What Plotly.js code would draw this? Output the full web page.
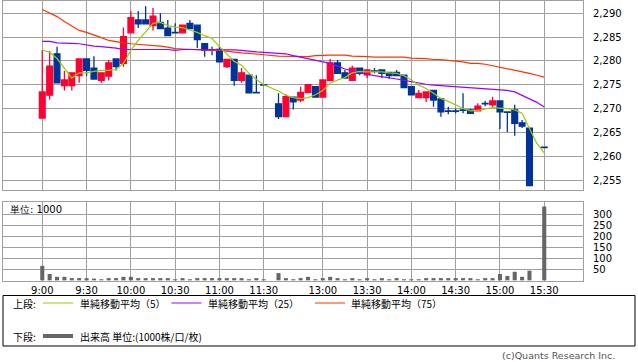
<!DOCTYPE html>
<html><head><meta charset="utf-8">
<script src="https://cdn.plot.ly/plotly-3.0.1.min.js"></script>
<style>html,body{margin:0;padding:0;background:#fff;}#chart{width:638px;height:362px;}</style>
</head><body><div id="chart"></div>
<script>
// ---- data ----
const times = ["9:00","9:05","9:10","9:15","9:20","9:25","9:30","9:35","9:40","9:45","9:50","9:55",
"10:00","10:05","10:10","10:15","10:20","10:25","10:30","10:35","10:40","10:45","10:50","10:55",
"11:00","11:05","11:10","11:15","11:20","11:25","11:30","",
"12:30","12:35","12:40","12:45","12:50","12:55","13:00","13:05","13:10","13:15","13:20","13:25",
"13:30","13:35","13:40","13:45","13:50","13:55","14:00","14:05","14:10","14:15","14:20","14:25",
"14:30","14:35","14:40","14:45","14:50","14:55","15:00","15:05","15:10","15:15","15:20","15:25","15:30"];

const openP = [2268.0,2272.8,2281.5,2274.8,2274.8,2276.9,2280.4,2278.5,2275.9,2276.8,2280.4,2279.5,
2285.9,2288.6,2288.6,2287.4,2288.1,2286.9,2286.0,2285.9,2287.9,2287.5,2283.6,2282.3,
2282.4,2278.8,2280.3,2275.9,2277.0,2273.4,2275.0,null,
2271.0,2268.3,2272.4,2271.8,2273.4,2274.6,2272.4,2275.9,2279.6,2277.5,2275.9,2278.5,
2277.1,2277.9,2278.1,2277.6,2277.6,2277.0,2274.6,2272.3,2272.3,2273.8,2272.0,2269.5,
2269.5,2269.7,2269.7,2269.5,2271.1,2270.8,2271.6,2269.3,2269.7,2267.0,2265.9,null,2261.9];
const highP = [2282.3,2282.1,2283.0,2277.9,2277.5,2280.4,2280.4,2281.0,2277.5,2280.2,2280.4,2287.0,
2290.5,2290.5,2291.5,2291.1,2290.0,2288.6,2287.9,2287.5,2288.6,2287.5,2283.6,2283.0,
2283.0,2280.3,2280.3,2278.5,2277.0,2277.0,2275.0,null,
2273.2,2273.0,2272.4,2274.6,2275.0,2274.6,2276.0,2280.4,2280.2,2278.1,2279.0,2278.5,
2278.1,2278.5,2278.1,2277.6,2278.1,2277.0,2274.6,2273.9,2273.5,2273.8,2272.0,2270.4,
2270.0,2273.2,2269.9,2271.1,2271.6,2272.5,2271.6,2269.3,2270.8,2267.6,2265.9,null,2261.9];
const lowP = [2268.0,2271.9,2275.4,2273.8,2273.8,2275.4,2276.9,2276.2,2275.4,2275.9,2278.0,2278.8,
2285.9,2286.9,2287.8,2286.4,2286.8,2285.3,2285.8,2285.9,2286.8,2282.7,2280.9,2281.2,
2279.8,2278.5,2274.8,2275.4,2273.3,2273.3,2274.9,null,
2267.8,2268.3,2269.8,2271.4,2273.4,2272.4,2272.4,2275.9,2277.4,2276.4,2275.9,2277.0,
2276.4,2277.4,2276.4,2276.2,2276.9,2274.4,2272.9,2272.3,2271.4,2270.4,2268.3,2268.8,
2269.0,2269.0,2269.0,2269.5,2270.5,2270.4,2265.7,2265.1,2264.3,2265.9,2253.8,null,2261.8];
const closeP = [2273.5,2278.9,2275.4,2276.0,2277.5,2280.4,2278.0,2276.2,2277.5,2279.6,2278.8,2285.1,
2289.1,2287.8,2287.8,2289.4,2286.8,2285.3,2285.9,2287.5,2286.8,2284.5,2282.2,2282.2,
2279.8,2280.3,2275.9,2277.5,2273.3,2273.3,2274.9,null,
2268.3,2272.5,2271.4,2273.4,2275.0,2272.4,2276.0,2279.6,2277.4,2276.4,2278.5,2277.4,
2278.1,2277.8,2277.4,2276.9,2276.9,2274.4,2272.9,2273.2,2273.5,2271.8,2269.3,2269.4,
2269.4,2269.6,2269.0,2270.5,2271.0,2271.6,2269.3,2269.2,2266.9,2266.3,2253.8,null,2261.8];

const ma5 = [2282.3,2281.8,2280.5,2278.5,2276.4,2277.5,2277.5,2277.8,2278.0,2278.0,2278.2,2279.5,
2282.2,2284.3,2286.2,2287.9,2288.1,2287.4,2287.1,2287.0,2286.5,2286.0,2285.3,2284.7,
2283.0,2281.5,2279.9,2279.1,2277.4,2276.1,2275.0,null,
2273.7,2272.8,2272.3,2272.1,2272.3,2272.9,2273.8,2275.3,2276.0,2276.5,2277.5,2277.8,
2277.7,2277.7,2277.7,2277.5,2277.4,2276.9,2276.0,2274.9,2274.2,2273.2,2272.1,2271.5,
2270.7,2270.0,2269.5,2269.6,2269.9,2270.2,2270.1,2270.0,2269.7,2269.0,2265.8,2262.7,2260.7];
const ma25 = [2284.1,2284.1,2283.8,2283.8,2283.7,2283.6,2283.3,2283.1,2283.0,2282.9,2282.7,2282.4,
2282.4,2282.4,2282.4,2282.4,2282.4,2282.4,2282.2,2282.4,2282.4,2282.4,2282.4,2282.4,
2282.4,2282.3,2282.3,2282.2,2282.0,2281.9,2281.8,null,
2281.6,2281.5,2281.1,2280.8,2280.5,2280.1,2279.8,2279.5,2278.9,2278.3,2277.9,2277.5,
2277.2,2276.9,2276.7,2276.4,2276.2,2275.9,2275.6,2275.3,2275.1,2274.9,2274.8,2274.7,
2274.6,2274.5,2274.4,2274.3,2274.2,2274.0,2273.9,2273.8,2273.5,2272.8,2272.1,2271.3,2270.3];
const ma75 = [2290.8,2290.1,2289.3,2288.3,2287.3,2286.4,2286.0,2285.5,2284.9,2284.3,2284.0,2283.8,
2283.6,2283.5,2283.4,2283.3,2283.1,2282.9,2282.6,2282.5,2282.4,2282.4,2282.3,2282.2,
2282.2,2282.0,2281.8,2281.7,2281.6,2281.4,2281.3,null,
2281.0,2281.0,2280.9,2280.9,2280.9,2281.1,2281.2,2281.2,2281.2,2281.2,2281.0,2281.0,
2280.9,2280.8,2280.8,2280.8,2280.8,2280.8,2280.6,2280.6,2280.5,2280.3,2280.3,2280.1,
2280.0,2279.8,2279.5,2279.5,2279.3,2279.0,2278.7,2278.4,2278.0,2277.7,2277.4,2277.0,2276.6];

const volume = [66,29,16,16,10,10,10,8,5,10,10,16,
16,10,10,10,10,10,5,10,5,10,10,10,
10,10,10,10,5,10,5,null,
33,10,5,10,16,5,10,16,10,5,10,5,
10,5,10,5,10,5,5,5,10,10,10,10,
10,10,10,5,10,10,29,20,39,16,44,null,336];

const xTickLabels = ["9:00","9:30","10:00","10:30","11:00","11:30","13:00","13:30","14:00","14:30","15:00","15:30"];
const priceTicks = [2255,2260,2265,2270,2275,2280,2285,2290];
const volTicks = [50,100,150,200,250,300];
const legendNames = ["単純移動平均（5）","単純移動平均（25）","単純移動平均（75）"];

// ---- chart ----
const X = times.map((t, i) => i);
const xTickVals = xTickLabels.map(t => times.indexOf(t));
const W = 638, H = 362, ML = 3, MR = 55, MT = 1, MB = 81;
const PW = W - ML - MR, PH = H - MT - MB;
const px = v => (v - ML) / PW;
const py = v => (H - MB - v) / PH;
const font = "DejaVu Sans, sans-serif";
const jfont = "Noto Sans CJK JP, sans-serif";
const grid = "#a0a0a0";

const traces = [
  {type: "candlestick", x: X, open: openP, high: highP, low: lowP, close: closeP,
   xaxis: "x", yaxis: "y", whiskerwidth: 0, hoverinfo: "skip",
   increasing: {line: {color: "#ff0033", width: 1.3}, fillcolor: "#ff0033"},
   decreasing: {line: {color: "#003399", width: 1.3}, fillcolor: "#003399"}},
  {type: "scatter", mode: "lines", x: X, y: ma75, connectgaps: true, line: {color: "#ff3300", width: 1.2}, xaxis: "x", yaxis: "y"},
  {type: "scatter", mode: "lines", x: X, y: ma25, connectgaps: true, line: {color: "#9900ff", width: 1.2}, xaxis: "x", yaxis: "y"},
  {type: "scatter", mode: "lines", x: X, y: ma5, connectgaps: true, line: {color: "#99cc00", width: 1.2}, xaxis: "x", yaxis: "y"},
  {type: "bar", x: X, y: volume, marker: {color: "#666666", line: {width: 0}}, xaxis: "x2", yaxis: "y2"}
];

const xr = [-5.32, 73.25];
const shapes = [
  {type: "rect", xref: "paper", yref: "paper", x0: px(3), x1: px(635), y0: py(346), y1: py(295.5), line: {color: "#000", width: 1}},
  {type: "line", xref: "paper", yref: "paper", x0: px(43), x1: px(73), y0: py(303), y1: py(303), line: {color: "#99cc00", width: 1}},
  {type: "line", xref: "paper", yref: "paper", x0: px(171.5), x1: px(201.5), y0: py(303), y1: py(303), line: {color: "#9900ff", width: 1}},
  {type: "line", xref: "paper", yref: "paper", x0: px(315), x1: px(345), y0: py(303), y1: py(303), line: {color: "#ff3300", width: 1}},
  {type: "line", xref: "paper", yref: "paper", x0: px(43), x1: px(73), y0: py(336), y1: py(336), line: {color: "#666666", width: 4}}
];
const ann = (x, y, text, opts) => Object.assign({xref: "paper", yref: "paper", x: px(x), y: py(y), text: text,
  showarrow: false, xanchor: "left", yanchor: "middle", font: {family: jfont, size: 10, color: "#000"}}, opts || {});
const annotations = [
  ann(8, 209, "単位: 1000", {font: {family: font, size: 10, color: "#000"}}),
  ann(11, 303, "上段:"),
  ann(78, 303, legendNames[0]),
  ann(205.5, 303, legendNames[1]),
  ann(349.5, 303, legendNames[2]),
  ann(11, 336, "下段:"),
  ann(78, 336, "出来高 単位:(1000株/口/枚)"),
  ann(617, 355.5, "(c)Quants Research Inc.", {xanchor: "right", font: {family: font, size: 9.5, color: "#555"}})
];

const layout = {
  width: W, height: H, margin: {l: ML, r: MR, t: MT, b: MB, pad: 0},
  paper_bgcolor: "#fff", plot_bgcolor: "#fff", showlegend: false,
  boxgap: 0.22, boxgroupgap: 0, bargap: 0.45,
  font: {family: font, size: 10, color: "#000"},
  xaxis: {domain: [0, 1], anchor: "y", range: xr, tickvals: xTickVals, showticklabels: false,
    showgrid: true, gridcolor: grid, gridwidth: 1, showline: true, mirror: true, linecolor: grid, linewidth: 1,
    zeroline: false, ticks: "", rangeslider: {visible: false}, fixedrange: true},
  yaxis: {domain: [py(190), 1], anchor: "x", side: "right", range: [2252.9, 2292.58], tickvals: priceTicks,
    ticktext: priceTicks.map(v => v.toLocaleString("en-US")), showgrid: true, gridcolor: grid, gridwidth: 1,
    showline: true, mirror: true, linecolor: grid, zeroline: false, ticks: "outside", ticklen: 7, tickcolor: "rgba(0,0,0,0)",
    tickfont: {family: font, size: 10, color: "#000"}},
  xaxis2: {domain: [0, 1], anchor: "y2", range: xr, tickvals: xTickVals, ticktext: xTickLabels,
    showgrid: true, gridcolor: grid, gridwidth: 1, showline: true, mirror: true, linecolor: grid,
    zeroline: false, ticks: "", tickfont: {family: font, size: 10, color: "#000"}},
  yaxis2: {domain: [0, py(201.7)], anchor: "x2", side: "right", range: [-3, 358], tickvals: volTicks,
    showgrid: true, gridcolor: grid, gridwidth: 1, showline: true, mirror: true, linecolor: grid, zeroline: false,
    ticks: "outside", ticklen: 7, tickcolor: "rgba(0,0,0,0)", tickfont: {family: font, size: 10, color: "#000"}},
  shapes: shapes, annotations: annotations
};

Plotly.newPlot("chart", traces, layout, {staticPlot: true, displayModeBar: false});
</script></body></html>
